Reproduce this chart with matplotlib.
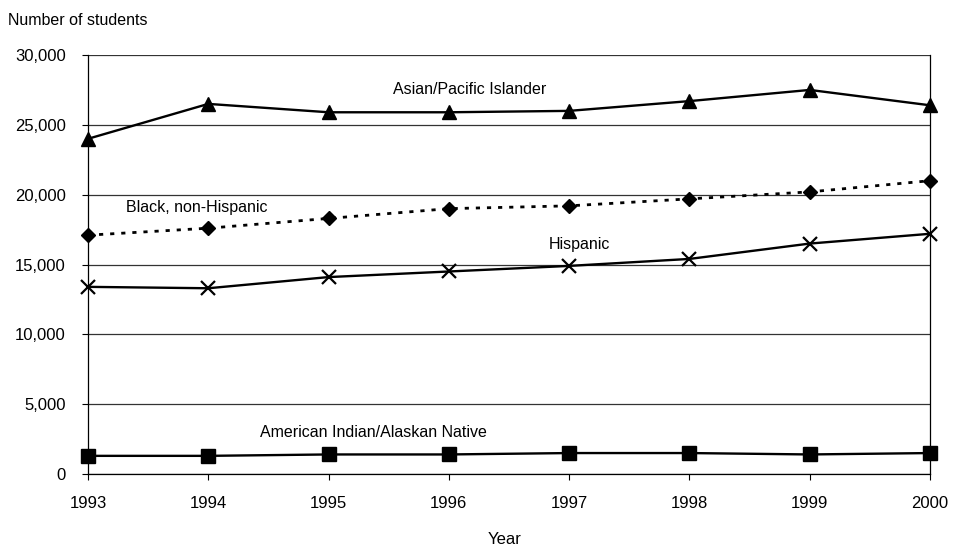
import numpy as np
import matplotlib.pyplot as plt

plt.rcParams['font.family'] = ['Liberation Sans', 'DejaVu Sans']

years = [1993, 1994, 1995, 1996, 1997, 1998, 1999, 2000]
asian = [24000, 26500, 25900, 25900, 26000, 26700, 27500, 26400]
black = [17100, 17600, 18300, 19000, 19200, 19700, 20200, 21000]
hispanic = [13400, 13300, 14100, 14500, 14900, 15400, 16500, 17200]
amind = [1300, 1300, 1400, 1400, 1500, 1500, 1400, 1500]

fig = plt.figure(figsize=(9.54, 5.49), dpi=100)
ax = fig.add_axes([0.0922, 0.1366, 0.8827, 0.7632])

ax.plot(years, asian, color='black', lw=1.7, marker='^', ms=10, clip_on=False, zorder=3)
ax.plot(years, black, color='black', lw=2.0, ls=(0, (1.5, 2.5)), marker='D', ms=7, clip_on=False, zorder=3)
ax.plot(years, hispanic, color='black', lw=1.7, marker='x', ms=10, mew=1.6, clip_on=False, zorder=3)
ax.plot(years, amind, color='black', lw=1.7, marker='s', ms=10, clip_on=False, zorder=3)

ax.text(1996.17, 27500, 'Asian/Pacific Islander', fontsize=11.5, ha='center', va='center')
ax.text(1993.32, 19050, 'Black, non-Hispanic', fontsize=11.5, ha='left', va='center')
ax.text(1996.83, 16400, 'Hispanic', fontsize=11.5, ha='left', va='center')
ax.text(1994.43, 3000, 'American Indian/Alaskan Native', fontsize=11.5, ha='left', va='center')

ax.set_xlim(1993, 2000)
ax.set_ylim(0, 30000)
ax.set_xticks(years)
ax.set_yticks(np.arange(0, 30001, 5000))
ax.set_yticklabels([f'{v:,}' for v in range(0, 30001, 5000)])
ax.tick_params(axis='both', labelsize=12, length=4, width=0.8, color='black')
ax.tick_params(axis='y', pad=12)
ax.tick_params(axis='x', pad=12)
ax.yaxis.grid(True, color='#333333', lw=0.9)
ax.set_axisbelow(True)
ax.spines['top'].set_visible(False)
for s in ['left', 'right', 'bottom']:
    ax.spines[s].set_linewidth(0.9)

fig.text(0.008, 0.963, 'Number of students', fontsize=11.5, ha='left', va='center')
fig.text(0.529, 0.018, 'Year', fontsize=12, ha='center', va='center')

fig.savefig('out.png', dpi=100)
